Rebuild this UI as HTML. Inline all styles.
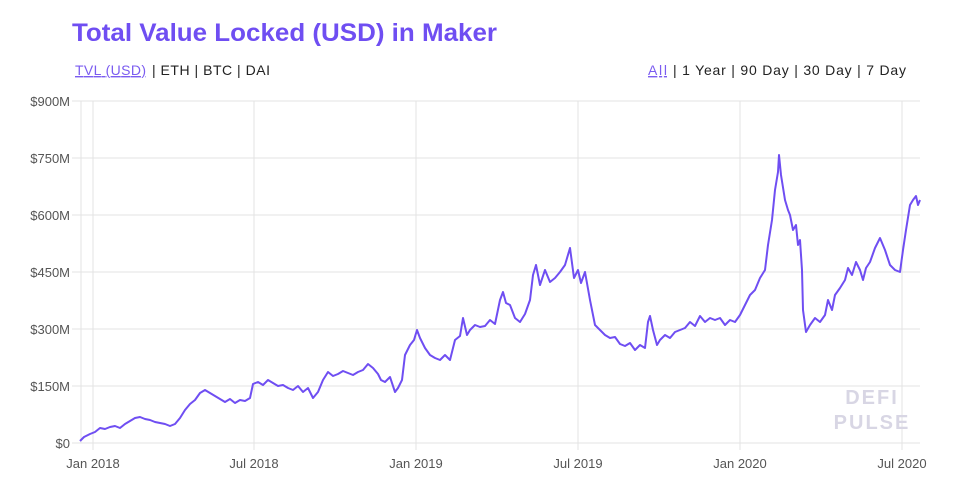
<!DOCTYPE html>
<html><head><meta charset="utf-8"><style>
html,body{margin:0;padding:0;width:960px;height:493px;overflow:hidden;background:#fff;font-family:"Liberation Sans",sans-serif}
</style></head><body>
<svg width="960" height="493" xmlns="http://www.w3.org/2000/svg">
<rect width="960" height="493" fill="#fff"/>
<text x="72" y="41" font-size="25" font-weight="bold" fill="#6f4ef2" font-family="Liberation Sans, sans-serif" textLength="425" lengthAdjust="spacingAndGlyphs">Total Value Locked (USD) in Maker</text>
<g font-size="14" fill="#222">
<text x="75" y="75" fill="#7b5cf0" text-decoration="underline" textLength="71">TVL (USD)</text>
<text x="152" y="75" textLength="118">| ETH | BTC | DAI</text>
<text x="648" y="75" fill="#7b5cf0" text-decoration="underline" textLength="19">All</text>
<text x="673" y="75" textLength="233">| 1 Year | 90 Day | 30 Day | 7 Day</text>
</g>
<g stroke="#e3e3e3" stroke-width="1">
<line x1="72" y1="101" x2="920" y2="101"/><line x1="72" y1="158" x2="920" y2="158"/>
<line x1="72" y1="215" x2="920" y2="215"/><line x1="72" y1="272" x2="920" y2="272"/>
<line x1="72" y1="329" x2="920" y2="329"/><line x1="72" y1="386" x2="920" y2="386"/>
<line x1="72" y1="443" x2="920" y2="443"/>
<line x1="81" y1="101" x2="81" y2="443"/>
<line x1="93" y1="101" x2="93" y2="450"/><line x1="254" y1="101" x2="254" y2="450"/>
<line x1="416" y1="101" x2="416" y2="450"/><line x1="578" y1="101" x2="578" y2="450"/>
<line x1="740" y1="101" x2="740" y2="450"/><line x1="902" y1="101" x2="902" y2="450"/>
</g>
<g font-size="13" fill="#555" text-anchor="end">
<text x="70" y="106">$900M</text><text x="70" y="163">$750M</text><text x="70" y="220">$600M</text>
<text x="70" y="277">$450M</text><text x="70" y="334">$300M</text><text x="70" y="391">$150M</text>
<text x="70" y="448">$0</text>
</g>
<g font-size="13" fill="#555" text-anchor="middle">
<text x="93" y="468">Jan 2018</text><text x="254" y="468">Jul 2018</text><text x="416" y="468">Jan 2019</text>
<text x="578" y="468">Jul 2019</text><text x="740" y="468">Jan 2020</text><text x="902" y="468">Jul 2020</text>
</g>
<g font-size="20" font-weight="bold" fill="#d8d6e4" text-anchor="middle" letter-spacing="2">
<text x="872" y="404">DEFI</text><text x="872" y="429">PULSE</text>
</g>
<polyline fill="none" stroke="#6f4ef2" stroke-width="2" stroke-linejoin="round" points="80,441 84,437 90,434 95,432 100,428 105,429 110,427 115,426 120,428 125,424 130,421 135,418 140,417 145,419 150,420 155,422 160,423 165,424 170,426 175,424 180,418 185,410 190,404 195,400 200,393 205,390 210,393 215,396 220,399 225,402 230,399 235,403 240,400 245,401 250,398 253,384 258,382 263,385 268,380 273,383 278,386 283,385 288,388 293,390 298,386 303,392 308,388 313,398 318,392 323,380 328,372 333,376 338,374 343,371 348,373 353,375 358,372 363,370 368,364 373,368 378,374 381,380 385,382 390,377 395,392 398,388 402,380 405,355 410,345 414,340 417,330 420,338 425,348 430,355 435,358 440,360 445,355 450,360 455,340 460,336 463,318 467,335 470,330 475,325 480,327 485,326 490,320 495,324 500,300 503,292 506,303 510,305 515,318 520,322 525,314 530,300 533,275 536,265 540,285 545,270 550,282 555,278 560,272 565,265 570,248 574,278 578,270 581,283 585,272 590,300 595,325 600,330 605,335 610,338 615,337 620,344 625,346 630,343 635,350 640,345 645,348 648,322 650,316 653,330 657,345 660,340 665,335 670,338 675,332 680,330 685,328 690,322 695,326 700,316 705,322 710,318 715,320 720,318 725,325 730,320 735,322 740,315 745,305 750,295 755,290 760,278 765,270 768,245 772,220 775,190 778,172 779,155 781,175 785,200 788,210 790,215 793,230 796,225 798,245 800,240 802,270 803,310 806,332 810,325 815,318 820,322 825,315 828,300 832,310 835,295 840,288 845,280 848,268 852,275 856,262 860,270 863,280 866,268 870,262 875,248 880,238 885,250 890,265 895,270 900,272 903,250 906,230 910,205 913,200 916,196 918,205 920,200"/>
</svg>
</body></html>
